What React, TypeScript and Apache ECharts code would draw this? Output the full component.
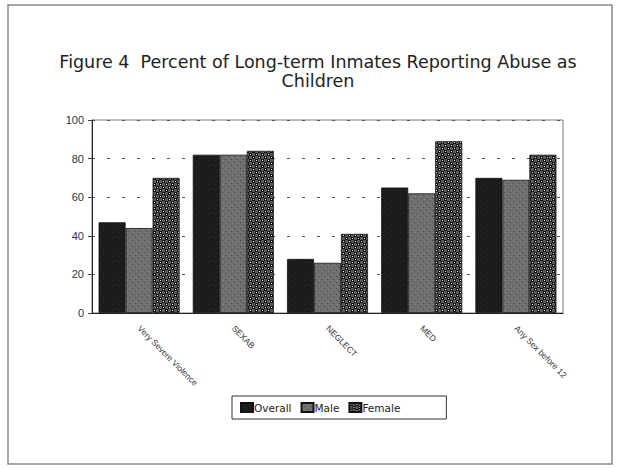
import React, { useEffect, useRef } from "react";
import * as echarts from "echarts";

const categories = ["Very Severe Violence", "SEXAB", "NEGLECT", "MED", "Any Sex before 12"];
const overall = [47, 82, 28, 65, 70];
const male = [44, 82, 26, 62, 69];
const female = [70, 84, 41, 89, 82];
const yTicks = [0, 20, 40, 60, 80, 100];

// Small tiled canvases used as fill patterns for the bars.
function makeTile(size: number, draw: (ctx: CanvasRenderingContext2D) => void) {
  const c = document.createElement("canvas");
  c.width = size;
  c.height = size;
  const ctx = c.getContext("2d")!;
  draw(ctx);
  return c;
}

function overallTile() {
  return makeTile(6, (ctx) => {
    ctx.fillStyle = "#1b1b1b";
    ctx.fillRect(0, 0, 6, 6);
    ctx.fillStyle = "#2e2e2e";
    ctx.fillRect(1, 2, 1, 1);
    ctx.fillRect(4, 4, 1, 1);
  });
}

function maleTile() {
  return makeTile(6, (ctx) => {
    ctx.fillStyle = "#6f6f6f";
    ctx.fillRect(0, 0, 6, 6);
    ctx.fillStyle = "#4a4a4a";
    ctx.fillRect(0, 0, 1, 1);
    ctx.fillRect(3, 3, 1, 1);
    ctx.fillStyle = "#8a8a8a";
    ctx.fillRect(4, 1, 1, 1);
    ctx.fillRect(1, 4, 1, 1);
  });
}

function femaleTile() {
  return makeTile(6, (ctx) => {
    ctx.fillStyle = "#5a5a5a";
    ctx.fillRect(0, 0, 6, 6);
    ctx.fillStyle = "#111";
    ctx.fillRect(0, 0, 3, 3);
    ctx.fillRect(3, 3, 3, 3);
    ctx.fillStyle = "#f4f4f4";
    ctx.fillRect(1, 1, 1, 1);
    ctx.fillRect(4, 4, 1, 1);
  });
}

export default function App() {
  const ref = useRef<HTMLDivElement>(null);

  useEffect(() => {
    if (!ref.current) return;
    const chart = echarts.init(ref.current, null, { renderer: "svg" });
    const pat = (c: HTMLCanvasElement) => ({ image: c, repeat: "repeat" as const });
    const barStyle = (c: HTMLCanvasElement) => ({
      color: pat(c),
      borderColor: "#111",
      borderWidth: 0.8,
    });

    chart.setOption({
      animation: false,
      backgroundColor: "#fff",
      title: {
        text: "Figure 4  Percent of Long-term Inmates Reporting Abuse as\nChildren",
        left: 313,
        textAlign: "center",
        top: 47,
        textStyle: {
          fontFamily: "DejaVu Sans, Arial, sans-serif",
          fontSize: 17.5,
          fontWeight: "normal",
          color: "#222",
          lineHeight: 19,
        },
      },
      grid: {
        left: 92,
        right: 54,
        top: 120,
        bottom: 155,
        show: true,
        borderColor: "#777",
        borderWidth: 1,
      },
      legend: {
        left: 232,
        top: 396,
        orient: "horizontal",
        icon: "rect",
        borderColor: "#333",
        borderWidth: 1,
        padding: [6, 46, 6, 8],
        itemWidth: 12,
        itemHeight: 9,
        itemGap: 9,
        textStyle: {
          fontFamily: "DejaVu Sans, Arial, sans-serif",
          fontSize: 10.5,
          color: "#222",
          padding: [0, 0, 0, -4],
        },
        data: ["Overall", "Male", "Female"],
      },
      xAxis: {
        type: "category",
        data: categories,
        axisLine: { lineStyle: { color: "#222", width: 1 } },
        axisTick: { show: false },
        axisLabel: {
          rotate: -45,
          interval: 0,
          fontFamily: "Liberation Sans, Arial, sans-serif",
          fontSize: 8.5,
          color: "#333",
          margin: 14,
        },
      },
      yAxis: {
        type: "value",
        min: yTicks[0],
        max: yTicks[yTicks.length - 1],
        interval: 20,
        axisLine: { show: true, lineStyle: { color: "#222", width: 1 } },
        axisTick: { show: true, length: 4, lineStyle: { color: "#444" } },
        axisLabel: {
          fontFamily: "Liberation Sans, Arial, sans-serif",
          fontSize: 11,
          color: "#333",
          margin: 8,
        },
        splitLine: {
          show: true,
          lineStyle: { color: "#555", type: [3, 12], width: 1 },
        },
      },
      graphic: [
        {
          type: "rect",
          shape: { x: 8, y: 5, width: 604, height: 459 },
          style: { fill: "none", stroke: "#8a8a8a", lineWidth: 1.5 },
          silent: true,
        },
      ],
      series: [
        {
          name: "Overall",
          type: "bar",
          data: overall,
          barGap: "0%",
          barCategoryGap: "14%",
          itemStyle: barStyle(overallTile()),
        },
        {
          name: "Male",
          type: "bar",
          data: male,
          barGap: "0%",
          barCategoryGap: "14%",
          itemStyle: barStyle(maleTile()),
        },
        {
          name: "Female",
          type: "bar",
          data: female,
          barGap: "0%",
          barCategoryGap: "14%",
          itemStyle: barStyle(femaleTile()),
        },
      ],
    });

    return () => chart.dispose();
  }, []);

  return (
    <div
      ref={ref}
      style={{ position: "absolute", left: 0, top: 0, width: 617, height: 468 }}
    />
  );
}
